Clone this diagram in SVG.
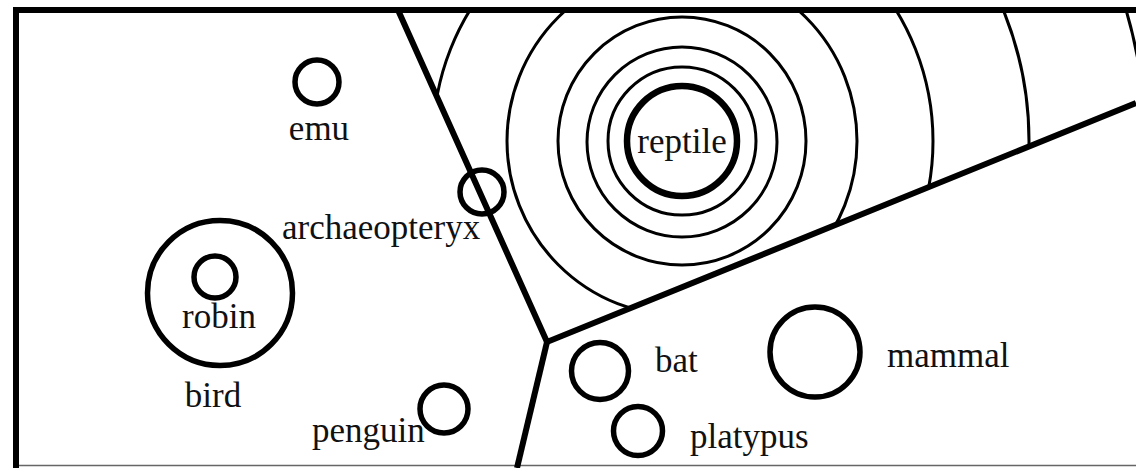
<svg xmlns="http://www.w3.org/2000/svg" width="1136" height="468" viewBox="0 0 1136 468">
  <style>
    .lbl { font-family: "Liberation Serif", "Times New Roman", serif; font-size: 35px; fill: #111; }
    .node { fill: none; stroke: #000; stroke-width: 5.5; }
    .ring { fill: none; stroke: #000; stroke-width: 3; }
    .wall { fill: none; stroke: #000; stroke-width: 6; stroke-linejoin: miter; }
  </style>
  <defs>
    <clipPath id="reptileZone">
      <polygon points="398,10 1136,10 1136,103 547,342"/>
    </clipPath>
  </defs>
  <rect x="0" y="0" width="1136" height="468" fill="#fff"/>

  <!-- frame -->
  <g id="frame">
    <line x1="13" y1="465.5" x2="1136" y2="465.5" stroke="#666" stroke-width="1.5"/>
    <polyline class="wall" points="16,468 16,10 1136,10"/>
  </g>

  <!-- reptile rings -->
  <g id="reptile-rings" clip-path="url(#reptileZone)">
    <circle class="ring" cx="682" cy="141" r="74"/>
    <circle class="ring" cx="682" cy="142" r="95"/>
    <circle class="ring" cx="682" cy="141" r="124"/>
    <circle class="ring" cx="682" cy="141" r="175"/>
    <circle class="ring" cx="683" cy="141" r="250"/>
    <circle class="ring" cx="683" cy="141" r="346"/>
    <circle class="ring" cx="683" cy="141" r="462"/>
  </g>

  <!-- region boundaries -->
  <g id="connectors">
    <polyline class="wall" points="398,10 547,342 1136,103"/>
    <line class="wall" x1="547" y1="342" x2="517" y2="468"/>
  </g>

  <g id="reptile">
    <circle cx="682" cy="141" r="55" fill="none" stroke="#000" stroke-width="6.5"/>
    <text class="lbl" x="682" y="153" text-anchor="middle">reptile</text>
  </g>
  <g id="emu">
    <circle class="node" cx="317" cy="82" r="22"/>
    <text class="lbl" x="319" y="140" text-anchor="middle">emu</text>
  </g>
  <g id="archaeopteryx">
    <circle class="node" cx="482" cy="192" r="22"/>
    <text class="lbl" x="282" y="239">archaeopteryx</text>
  </g>
  <g id="bird">
    <circle class="node" cx="220" cy="293" r="72.5"/>
    <text class="lbl" x="213" y="407" text-anchor="middle">bird</text>
  </g>
  <g id="robin">
    <circle class="node" cx="215" cy="277" r="21"/>
    <text class="lbl" x="219" y="328" text-anchor="middle">robin</text>
  </g>
  <g id="penguin">
    <circle class="node" cx="444" cy="409" r="24"/>
    <text class="lbl" x="312" y="442">penguin</text>
  </g>
  <g id="bat">
    <circle class="node" cx="600" cy="371" r="28.5"/>
    <text class="lbl" x="655" y="372">bat</text>
  </g>
  <g id="platypus">
    <circle class="node" cx="638" cy="431" r="24.5"/>
    <text class="lbl" x="690" y="448">platypus</text>
  </g>
  <g id="mammal">
    <circle class="node" cx="815" cy="352" r="45"/>
    <text class="lbl" x="887" y="367">mammal</text>
  </g>
</svg>
